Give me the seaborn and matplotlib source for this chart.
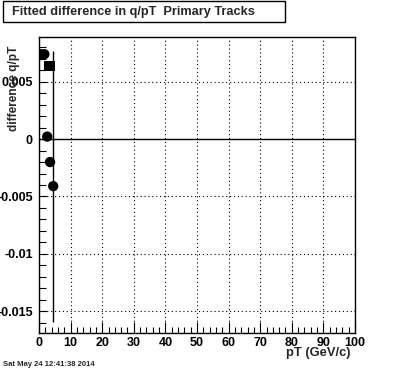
import numpy as np
import pandas as pd
import matplotlib
matplotlib.use("Agg")
import matplotlib.pyplot as plt
from matplotlib.patches import Rectangle
from matplotlib.ticker import MultipleLocator, FuncFormatter
import seaborn as sns

# data
pt = [0.5, 1.7, 3.3, 2.6, 3.5, 4.5]
diff = [0.0074, 0.0074, 0.0064, 0.00022, -0.0020, -0.0041]
err = [0.0, 0.0, 0.0, 0.0, 0.0, 0.0118]
kind = ["circle", "circle", "square", "circle", "circle", "circle"]

df = pd.DataFrame({"pt": pt, "diff": diff, "err": err, "kind": kind})

sns.set_style("ticks")
plt.rcParams["font.family"] = ["Liberation Sans", "DejaVu Sans"]
plt.rcParams["font.weight"] = "bold"

W, H = 396, 372
fig = plt.figure(figsize=(W / 100, H / 100), dpi=100)
ax = fig.add_axes([39 / W, 1 - 333 / H, 316 / W, 296 / H])

ax.grid(True, which="major", color="black", linestyle=(0, (1, 2.5)), linewidth=0.8)
ax.axhline(0, color="black", linewidth=1, zorder=2)

# error bars
big = df[df["err"] > 0]
ax.errorbar(big["pt"], big["diff"], yerr=big["err"], fmt="none", ecolor="black",
            elinewidth=1, capsize=0, zorder=3)

sns.scatterplot(data=df, x="pt", y="diff", style="kind",
                markers={"circle": "o", "square": "s"}, color="black",
                s=55, edgecolor="black", linewidth=0, legend=False, ax=ax, zorder=4)

ax.set_xlim(0, 100)
ax.set_ylim(-0.0169, 0.0089)
ax.xaxis.set_major_locator(MultipleLocator(10))
ax.xaxis.set_minor_locator(MultipleLocator(2))
ax.yaxis.set_major_locator(MultipleLocator(0.005))
ax.yaxis.set_minor_locator(MultipleLocator(0.001))
ax.yaxis.set_major_formatter(FuncFormatter(lambda v, p: "%g" % round(v, 6)))
ax.tick_params(axis="both", which="both", direction="in", top=False, right=False,
               colors="black", width=0.8)
ax.tick_params(axis="x", which="major", length=8, labelsize=9, pad=3)
ax.tick_params(axis="x", which="minor", length=4)
ax.tick_params(axis="y", which="major", length=6, labelsize=9, pad=4.5)
ax.tick_params(axis="y", which="minor", length=5)
for lab in ax.get_xticklabels() + ax.get_yticklabels():
    lab.set_fontweight("bold")
for s in ax.spines.values():
    s.set_color("black")
    s.set_linewidth(1)

ax.set_xlabel("")
ax.set_ylabel("")
fig.text(350 / W, 1 - 353 / H, "pT (GeV/c)", ha="right", va="center",
         fontsize=9.3, fontweight="bold")
fig.text(14 / W, 1 - 46 / H, "difference q/pT", rotation=90, ha="center", va="top",
         fontsize=8.6, fontweight="bold")

# title box
fig.patches.append(Rectangle((3 / W, 1 - 22 / H), 282 / W, 21 / H,
                             transform=fig.transFigure, facecolor="white",
                             edgecolor="black", linewidth=1))
fig.text(12 / W, 1 - 11.5 / H, "Fitted difference in q/pT  Primary Tracks",
         ha="left", va="center", fontsize=9.2, fontweight="bold")

fig.text(3 / W, 1 - 365 / H, "Sat May 24 12:41:38 2014", ha="left", va="center",
         fontsize=5.5, fontweight="bold")

fig.savefig("out.png", dpi=100)
